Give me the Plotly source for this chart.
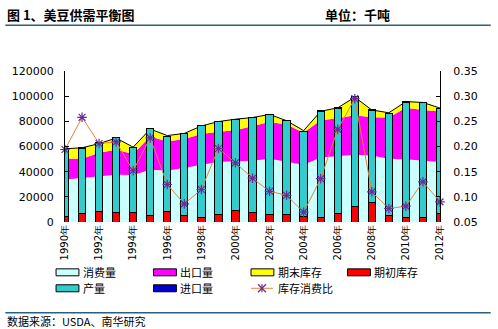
import plotly.graph_objects as go

# ---------------- data (thousand tonnes) ----------------
years = list(range(1990, 2013))
consumption = [33700, 35000, 36300, 37600, 37400, 41600, 41000, 42900, 45500, 47700, 48200, 48700,
               50300, 48200, 45500, 51300, 52500, 53500, 52900, 50300, 49800, 48700, 47700]
exports = [16800, 15200, 18700, 19900, 16600, 26400, 23000, 23100, 24500, 24100, 24800, 27800,
           29200, 29300, 25500, 29500, 30000, 31300, 30400, 32700, 41000, 40400, 40100]
ending_stocks = [7700, 8800, 7300, 9200, 5500, 5800, 4700, 4400, 6300, 8000, 8700, 6500,
                 6000, 3000, 1600, 7200, 8200, 14400, 5700, 3800, 4900, 5900, 2700]
beginning_stocks = [4700, 6500, 8700, 7200, 7200, 5500, 8700, 4800, 3300, 5800, 8800, 7300,
                    6200, 5600, 4600, 3300, 6500, 12000, 15200, 5500, 3900, 3900, 6600]
production = [53600, 52300, 54100, 60100, 51800, 68900, 59400, 65200, 73300, 74000, 72700, 75700,
              79300, 75200, 67400, 84700, 83900, 87400, 73600, 80600, 91400, 90900, 83500]
imports = [100, 100, 100, 200, 200, 100, 200, 200, 200, 200, 200, 200,
           200, 200, 200, 300, 300, 300, 300, 400, 400, 400, 400]
stock_ratio = [0.194, 0.258, 0.206, 0.209, 0.152, 0.217, 0.1245, 0.086, 0.1146, 0.196, 0.1676, 0.137,
               0.111, 0.103, 0.0695, 0.136, 0.234, 0.295, 0.110, 0.0768, 0.0814, 0.1299, 0.090]
tick_years = years[::2]
tick_labels = [f"{y}年" for y in tick_years]

names = ["消费量", "出口量", "期末库存", "期初库存", "产量", "进口量", "库存消费比"]

C_CONS = "#CCFFFF"
C_EXP = "#FF00FF"
C_END = "#FFFF00"
C_BEG = "#FF0000"
C_PROD = "#33CCCC"
C_IMP = "#0000CC"
C_LINE = "#E8823A"
C_STAR = "#6A2C96"

W, H = 498, 329
ML, MR, MT, MB = 63, 58, 71, 106.5
PW = W - ML - MR
PH = H - MT - MB


def px2x(px):
    return (px - ML) / PW


def py2y(py):
    return (H - MB - py) / PH


fig = go.Figure()

# stacked areas (base subplot)
fig.add_trace(go.Scatter(x=years, y=consumption, stackgroup="a", mode="lines",
                         line=dict(width=0, color=C_CONS), fillcolor=C_CONS, name=names[0],
                         showlegend=False, hoverinfo="skip"))
fig.add_trace(go.Scatter(x=years, y=exports, stackgroup="a", mode="lines",
                         line=dict(width=0, color=C_EXP), fillcolor=C_EXP, name=names[1],
                         showlegend=False, hoverinfo="skip"))
fig.add_trace(go.Scatter(x=years, y=ending_stocks, stackgroup="a", mode="lines",
                         line=dict(width=1, color="black"), fillcolor=C_END, name=names[2],
                         showlegend=False, hoverinfo="skip"))

# stacked columns (overlay subplot y2)
for vals, col, nm in [(beginning_stocks, C_BEG, names[3]), (production, C_PROD, names[4]),
                      (imports, C_IMP, names[5])]:
    fig.add_trace(go.Bar(x=years, y=vals, yaxis="y2", width=0.43, marker=dict(color=col,
                         line=dict(color="black", width=1)), name=nm, showlegend=False))

# ratio line (overlay subplot y3, right axis)
fig.add_trace(go.Scatter(x=years, y=stock_ratio, yaxis="y3", mode="lines+markers",
                         line=dict(color=C_LINE, width=1),
                         marker=dict(symbol="asterisk-open", size=8,
                                     line=dict(color=C_STAR, width=1.2), color=C_STAR),
                         cliponaxis=False, name=names[6], showlegend=False))

axfont = dict(family="DejaVu Sans, Verdana, sans-serif", size=11, color="black")

fig.update_layout(
    width=W, height=H,
    margin=dict(l=ML, r=MR, t=MT, b=MB, pad=0),
    paper_bgcolor="white", plot_bgcolor="white",
    barmode="stack", showlegend=False,
    xaxis=dict(range=[1990, 2012], tickvals=tick_years, ticktext=tick_labels, tickangle=-90,
               showgrid=False, zeroline=False, showline=False, ticks="",
               tickfont=dict(family="DejaVu Sans, sans-serif", size=10, color="black")),
    yaxis=dict(range=[0, 120000], dtick=20000, showgrid=False, zeroline=False, showline=True,
               linecolor="black", linewidth=1, ticks="inside", ticklen=4, tickcolor="black",
               tickfont=axfont, ticklabelstandoff=8, tickformat="d"),
    yaxis2=dict(range=[0, 120000], overlaying="y", visible=False),
    yaxis3=dict(range=[0.05, 0.35], dtick=0.05, overlaying="y", side="right", showgrid=False,
                zeroline=False, showline=True, linecolor="black", linewidth=1, ticks="inside",
                ticklen=4, tickcolor="black", tickformat=".2f", tickfont=axfont,
                ticklabelstandoff=10),
)

shapes = []
annotations = []

# header / footer rules
for yy in (25, 313.5):
    shapes.append(dict(type="line", xref="paper", yref="paper", x0=px2x(3), x1=px2x(491),
                       y0=py2y(yy), y1=py2y(yy), line=dict(color="#2B5F7F", width=1.5)))

cjk = "Noto Sans CJK SC"
annotations.append(dict(text="<b>图 1、美豆供需平衡图</b>", xref="paper", yref="paper",
                        x=px2x(3), y=py2y(14), xanchor="left", yanchor="middle", showarrow=False,
                        font=dict(family=cjk, size=13, color="black")))
annotations.append(dict(text="<b>单位：千吨</b>", xref="paper", yref="paper",
                        x=px2x(322), y=py2y(14), xanchor="left", yanchor="middle", showarrow=False,
                        font=dict(family=cjk, size=13, color="black")))
annotations.append(dict(text="数据来源：USDA、南华研究", xref="paper", yref="paper",
                        x=px2x(3), y=py2y(321.5), xanchor="left", yanchor="middle", showarrow=False,
                        font=dict(family=cjk, size=11, color="black")))

# manual legend
ROW1, ROW2 = 273, 289
leg_items = [
    (names[0], C_CONS, 54, ROW1, "rect"),
    (names[1], C_EXP, 152, ROW1, "rect"),
    (names[2], C_END, 250, ROW1, "rect"),
    (names[3], C_BEG, 347, ROW1, "rect"),
    (names[4], C_PROD, 54, ROW2, "rect"),
    (names[5], C_IMP, 152, ROW2, "rect"),
    (names[6], C_LINE, 250, ROW2, "line"),
]
for nm, col, lx, ly, kind in leg_items:
    if kind == "rect":
        shapes.append(dict(type="rect", xref="paper", yref="paper", x0=px2x(lx), x1=px2x(lx + 23),
                           y0=py2y(ly - 3.5), y1=py2y(ly + 3.5), fillcolor=col,
                           line=dict(color="black", width=1)))
    else:
        shapes.append(dict(type="line", xref="paper", yref="paper", x0=px2x(lx), x1=px2x(lx + 22),
                           y0=py2y(ly), y1=py2y(ly), line=dict(color=col, width=1)))
        cx, r = lx + 11, 4
        for dx0, dy0, dx1, dy1 in [(-r, -r, r, r), (-r, r, r, -r), (0, -r, 0, r)]:
            shapes.append(dict(type="line", xref="paper", yref="paper",
                               x0=px2x(cx + dx0), x1=px2x(cx + dx1),
                               y0=py2y(ly + dy0), y1=py2y(ly + dy1),
                               line=dict(color=C_STAR, width=1.2)))
    annotations.append(dict(text=nm, xref="paper", yref="paper", x=px2x(lx + 26), y=py2y(ly),
                            xanchor="left", yanchor="middle", showarrow=False, borderpad=0,
                            font=dict(family=cjk, size=11, color="black")))

fig.update_layout(shapes=shapes, annotations=annotations)

fig.write_html("out.html")
